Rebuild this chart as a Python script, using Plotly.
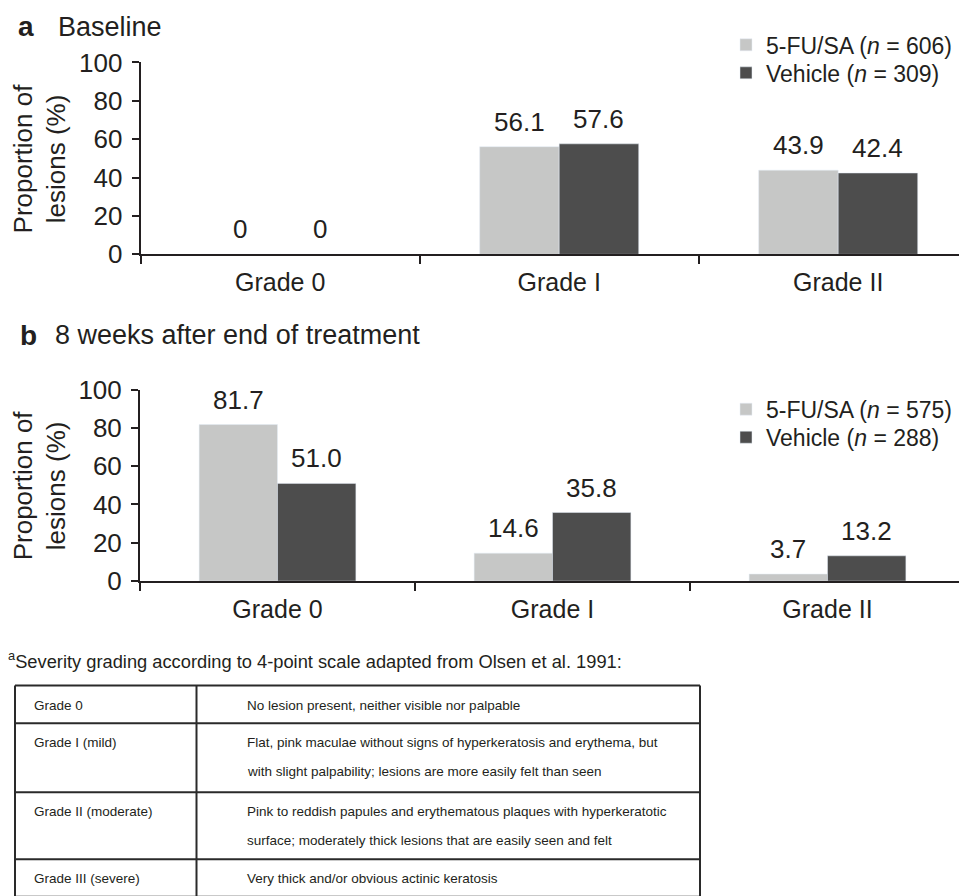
import plotly.graph_objects as go

# ---------------- data ----------------
grades = ["Grade 0", "Grade I", "Grade II"]

a_fu = [0.0, 56.1, 43.9]
a_veh = [0.0, 57.6, 42.4]
a_fu_name = "5-FU/SA (<i>n</i> = 606)"
a_veh_name = "Vehicle (<i>n</i> = 309)"

b_fu = [81.7, 14.6, 3.7]
b_veh = [51.0, 35.8, 13.2]
b_fu_name = "5-FU/SA (<i>n</i> = 575)"
b_veh_name = "Vehicle (<i>n</i> = 288)"

y_ticks = [0, 20, 40, 60, 80, 100]

footnote = "<sup>a</sup>Severity grading according to 4-point scale adapted from Olsen et al. 1991:"
table_grades = ["Grade 0", "Grade I (mild)", "Grade II (moderate)", "Grade III (severe)"]
table_desc = [
    ["No lesion present, neither visible nor palpable"],
    ["Flat, pink maculae without signs of hyperkeratosis and erythema, but",
     "with slight palpability; lesions are more easily felt than seen"],
    ["Pink to reddish papules and erythematous plaques with hyperkeratotic",
     "surface; moderately thick lesions that are easily seen and felt"],
    ["Very thick and/or obvious actinic keratosis"],
]

# ---------------- style ----------------
W, H = 967, 896
FONT = "Liberation Sans, Arial, sans-serif"
TXT = "#231f20"
LIGHT = "#c6c7c6"
DARK = "#4d4d4d"
BARGAP = 0.43

# page placement compensation (figure sits at an offset inside the page)
OX, OY = 8, 24
SX = 1.0
SY = H / (H + OY + 8)


def fx(xr):
    return xr / SX - OX


def fy(yr):
    return yr / SY - OY


def px(xr):
    return fx(xr) / W


def py(yr):
    return 1 - fy(yr) / H


fig = go.Figure()

# panel geometry (target pixels)
A_L, A_T, A_B, A_CAT = 140.7, 62.6, 254.3, 279.0
B_L, B_R, B_T, B_B = 140.0, 965.0, 389.3, 580.7

a_cat_f = A_CAT / SX
b_cat_f = (fx(B_R) - fx(B_L)) / 3
a_rng = [-0.5, -0.5 + (W - fx(A_L)) / a_cat_f]
b_rng = [-0.5, 2.5]

fig.add_trace(go.Bar(x=grades, y=a_fu, name=a_fu_name, marker_color=LIGHT,
                     xaxis="x", yaxis="y", legend="legend", hoverinfo="skip"))
fig.add_trace(go.Bar(x=grades, y=a_veh, name=a_veh_name, marker_color=DARK,
                     xaxis="x", yaxis="y", legend="legend2", hoverinfo="skip"))
fig.add_trace(go.Bar(x=grades, y=b_fu, name=b_fu_name, marker_color=LIGHT,
                     xaxis="x2", yaxis="y2", legend="legend3", hoverinfo="skip"))
fig.add_trace(go.Bar(x=grades, y=b_veh, name=b_veh_name, marker_color=DARK,
                     xaxis="x2", yaxis="y2", legend="legend4", hoverinfo="skip"))


def fmt(v):
    return "0" if v == 0 else f"{v:.1f}"


annotations = []
for xr, yr, cat, s1, s2 in [("x", "y", a_cat_f, a_fu, a_veh), ("x2", "y2", b_cat_f, b_fu, b_veh)]:
    half = cat * (1 - BARGAP) / 4
    for g, v1, v2 in zip(grades, s1, s2):
        for v, sh in [(v1, -half), (v2, half)]:
            annotations.append(dict(x=g, y=v, xref=xr, yref=yr, text=fmt(v), showarrow=False,
                                    xshift=sh, yshift=8, yanchor="bottom",
                                    font=dict(size=26, color=TXT, family=FONT)))

# y-axis titles
for yc in [(A_T + A_B) / 2, (B_T + B_B) / 2]:
    annotations.append(dict(x=px(40), y=py(yc), xref="paper", yref="paper",
                            text="Proportion of<br>lesions (%)", textangle=-90,
                            showarrow=False, xanchor="center", yanchor="middle",
                            font=dict(size=26, color=TXT, family=FONT)))

# panel titles
for lab, title, xl, xt, yc in [("a", "Baseline", 16, 56, 27), ("b", "8 weeks after end of treatment", 18, 53, 335)]:
    annotations.append(dict(x=px(xl), y=py(yc), xref="paper", yref="paper", text=f"<b>{lab}</b>",
                            showarrow=False, xanchor="left", yanchor="middle",
                            font=dict(size=28, color=TXT, family=FONT)))
    annotations.append(dict(x=px(xt), y=py(yc), xref="paper", yref="paper", text=title,
                            showarrow=False, xanchor="left", yanchor="middle",
                            font=dict(size=27, color=TXT, family=FONT)))

# footnote
annotations.append(dict(x=px(6), y=py(660), xref="paper", yref="paper", text=footnote,
                        showarrow=False, xanchor="left", yanchor="middle",
                        font=dict(size=18.3, color=TXT, family=FONT)))

# table
T_L, T_M, T_R = 15, 196.5, 700
row_lines = [685, 722.7, 791.7, 858.5, 896]
first_offset = 19.5
line_step = 28.4
shapes = []
LINE = dict(color="#2a2a2a", width=2)
for yl in row_lines:
    shapes.append(dict(type="line", xref="paper", yref="paper", x0=px(T_L), x1=px(T_R),
                       y0=py(yl), y1=py(yl), line=LINE))
for xv in [T_L, T_M, T_R]:
    shapes.append(dict(type="line", xref="paper", yref="paper", x0=px(xv), x1=px(xv),
                       y0=py(row_lines[0]), y1=py(row_lines[-1]), line=LINE))
for top, g, lines in zip(row_lines, table_grades, table_desc):
    first = top + first_offset
    annotations.append(dict(x=px(31.5), y=py(first), xref="paper", yref="paper", text=g,
                            showarrow=False, xanchor="left", yanchor="middle",
                            font=dict(size=13.5, color=TXT, family=FONT)))
    for i, ln in enumerate(lines):
        annotations.append(dict(x=px(245), y=py(first + line_step * i), xref="paper", yref="paper",
                                text=ln, showarrow=False, xanchor="left", yanchor="middle",
                                font=dict(size=13.5, color=TXT, family=FONT)))

xcommon = dict(type="category", tickson="boundaries", ticks="outside", ticklen=8, tickwidth=2,
               tickcolor=TXT, showline=True, linewidth=2, linecolor=TXT, showgrid=False,
               zeroline=False, tickfont=dict(size=25, color=TXT, family=FONT),
               ticklabelstandoff=5, fixedrange=True)
ycommon = dict(range=[0, 100], tickvals=y_ticks, ticks="outside", ticklen=7, tickwidth=2,
               tickcolor=TXT, showline=True, linewidth=2, linecolor=TXT, showgrid=False,
               zeroline=False, tickfont=dict(size=26, color=TXT, family=FONT),
               ticklabelstandoff=4, fixedrange=True)

LEG_X = px(746) - 20 / W


def leg(yc):
    return dict(x=LEG_X, y=py(yc), xanchor="left", yanchor="middle", bgcolor="rgba(0,0,0,0)",
                font=dict(size=23, color=TXT, family=FONT))


fig.update_layout(
    width=W, height=H,
    margin=dict(l=0, r=0, t=0, b=0),
    paper_bgcolor="white", plot_bgcolor="white",
    barmode="group", bargap=BARGAP, bargroupgap=0,
    font=dict(family=FONT, color=TXT),
    xaxis=dict(xcommon, domain=[px(A_L), 1], range=a_rng, anchor="y"),
    yaxis=dict(ycommon, domain=[py(A_B), py(A_T)], anchor="x"),
    xaxis2=dict(xcommon, domain=[px(B_L), px(B_R)], range=b_rng, anchor="y2"),
    yaxis2=dict(ycommon, domain=[py(B_B), py(B_T)], anchor="x2"),
    legend=leg(45),
    legend2=leg(73),
    legend3=leg(409),
    legend4=leg(437),
    annotations=annotations,
    shapes=shapes,
    showlegend=True,
)

fig.write_html("out.html")
